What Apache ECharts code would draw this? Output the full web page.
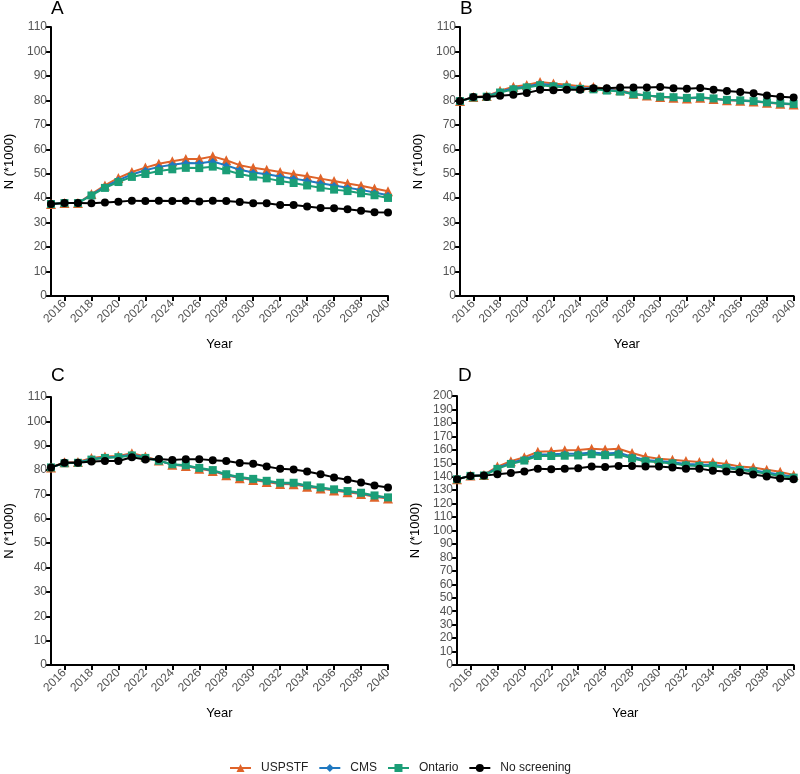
<!DOCTYPE html>
<html>
<head>
<meta charset="utf-8">
<script src="https://cdn.jsdelivr.net/npm/echarts@6/dist/echarts.min.js"></script>
<style>html,body{margin:0;padding:0;background:#fff}#c{width:800px;height:774px}</style>
</head>
<body>
<div id="c"></div>
<script>
const years = ['2015','2016','2017','2018','2019','2020','2021','2022','2023','2024','2025','2026','2027','2028','2029','2030','2031','2032','2033','2034','2035','2036','2037','2038','2039','2040'];
const seriesNames = ['USPSTF','CMS','Ontario','No screening'];
const panelTitles = ['A','B','C','D'];

const A_uspstf  = [37.6,38.0,38.0,41.7,45.2,48.3,50.7,52.5,54.1,55.1,56.0,56.0,57.1,55.5,53.5,52.4,51.6,50.7,49.8,49.0,48.0,47.0,46.0,45.1,44.0,42.8];
const A_cms     = [37.6,38.0,38.0,41.4,44.7,47.4,49.7,51.4,52.8,53.7,54.4,54.3,55.0,53.4,51.6,50.5,49.8,48.9,48.0,47.1,46.1,45.2,44.3,43.4,42.3,41.2];
const A_ontario = [37.6,38.0,38.0,41.1,44.2,46.6,48.7,49.9,51.1,51.8,52.4,52.3,52.9,51.4,49.9,48.8,48.1,47.0,46.2,45.2,44.3,43.5,42.9,42.0,41.2,40.1];
const A_none    = [37.6,38.0,38.0,37.9,38.2,38.5,39.0,38.8,38.9,38.8,38.9,38.6,39.0,38.8,38.4,37.9,37.9,37.2,37.2,36.6,36.0,35.9,35.5,34.9,34.2,34.1];

const B_uspstf  = [79.7,81.4,81.8,83.9,85.6,86.3,87.5,86.9,86.4,85.8,85.5,84.8,84.1,82.7,82.0,81.4,81.1,80.8,81.1,80.6,80.0,79.8,79.5,79.0,78.6,78.3];
const B_cms     = [79.7,81.3,81.6,83.5,85.0,85.7,86.8,86.2,85.7,85.1,84.9,84.3,83.8,82.6,82.0,81.5,81.2,80.9,81.2,80.7,80.1,79.9,79.6,79.1,78.7,78.4];
const B_ontario = [79.7,81.2,81.5,83.2,84.5,85.3,86.2,85.7,85.3,84.7,84.5,84.0,83.6,82.5,82.0,81.5,81.3,81.0,81.3,80.8,80.2,80.0,79.7,79.2,78.8,78.5];
const B_none    = [79.7,81.4,81.4,81.9,82.3,83.0,84.3,84.1,84.3,84.3,85.0,85.0,85.3,85.3,85.3,85.5,85.0,84.7,85.1,84.3,83.8,83.4,82.9,82.0,81.5,81.2];

const C_uspstf  = [81.1,83.2,83.3,85.0,85.6,85.8,86.9,85.6,83.9,82.2,81.7,80.5,79.6,77.9,76.7,75.9,75.1,74.3,74.2,73.2,72.4,71.6,70.9,70.2,69.1,68.3];
const C_cms     = [81.1,82.9,83.1,84.6,85.2,85.5,86.4,85.2,83.8,82.3,81.8,80.7,79.8,78.1,77.0,76.2,75.4,74.6,74.5,73.5,72.7,71.9,71.2,70.5,69.4,68.6];
const C_ontario = [81.1,82.8,83.0,84.3,85.0,85.3,86.0,85.0,83.8,82.4,82.0,80.9,80.0,78.3,77.2,76.4,75.6,74.8,74.8,73.7,72.9,72.1,71.4,70.7,69.6,68.8];
const C_none    = [81.1,83.0,83.0,83.5,83.7,83.7,85.3,84.3,84.6,84.1,84.5,84.5,84.0,83.7,82.9,82.6,81.5,80.5,80.2,79.4,78.3,77.0,76.0,74.9,73.7,72.9];

const D_uspstf  = [138.1,140.8,141.3,147.5,151.5,154.5,158.5,159.0,159.7,159.8,160.8,160.2,160.8,157.6,154.8,153.4,152.6,151.6,150.9,150.8,149.5,147.6,146.8,145.2,143.6,141.2];
const D_cms     = [138.1,140.7,141.1,146.5,150.3,153.0,156.5,156.6,157.0,157.1,158.0,157.3,157.8,154.8,152.5,151.6,150.8,149.4,149.0,148.9,147.4,145.8,144.8,143.2,141.6,139.8];
const D_ontario = [138.1,140.6,140.9,145.8,149.5,152.0,155.4,155.4,155.6,155.8,156.7,156.0,156.5,153.6,151.5,150.7,149.9,148.4,148.0,148.0,146.5,145.0,143.8,142.2,140.5,139.3];
const D_none    = [138.1,140.6,140.8,141.8,142.8,143.8,146.0,145.5,146.0,146.3,147.5,147.3,148.0,148.0,147.5,147.5,146.8,146.0,146.0,144.5,143.8,143.3,141.6,140.1,138.6,138.1];

const panelData = [
  [A_uspstf, A_cms, A_ontario, A_none],
  [B_uspstf, B_cms, B_ontario, B_none],
  [C_uspstf, C_cms, C_ontario, C_none],
  [D_uspstf, D_cms, D_ontario, D_none]
];
const yMax = [110, 110, 110, 200];

const colors = ['#DF6329', '#1F78C0', '#1B9E77', '#000000'];
const symbols = ['triangle', 'diamond', 'rect', 'circle'];
const symSizes = [10, 7, 8, 8];

const FONT = 'Liberation Sans, Arial, Helvetica, sans-serif';

const grids = [
  {left: 51, top: 27, width: 337, height: 269},
  {left: 460, top: 27, width: 334, height: 269},
  {left: 51, top: 397, width: 337, height: 268},
  {left: 457, top: 396, width: 337, height: 269}
];
const titlePos = [
  {left: 51, top: -1},
  {left: 460, top: -1},
  {left: 51, top: 366},
  {left: 458, top: 366}
];

const evenYear = function (i) { return i % 2 === 1; };

const option = {
  animation: false,
  backgroundColor: '#fff',
  title: panelTitles.map((t, i) => ({
    text: t, left: titlePos[i].left, top: titlePos[i].top, padding: 0,
    textStyle: {fontSize: 19, fontWeight: 'normal', color: '#000', fontFamily: FONT}
  })),
  grid: grids,
  legend: {
    data: seriesNames,
    left: 'center',
    top: 762,
    padding: 0,
    itemWidth: 21,
    itemHeight: 10,
    itemGap: 10,
    textStyle: {fontSize: 12, color: '#222', fontFamily: FONT, padding: [0, 0, 0, 5]}
  },
  xAxis: grids.map((g, i) => ({
    type: 'category',
    gridIndex: i,
    data: years,
    boundaryGap: false,
    name: 'Year',
    nameLocation: 'middle',
    nameGap: 42,
    nameTextStyle: {fontSize: 13, color: '#000', fontFamily: FONT},
    axisLine: {lineStyle: {color: '#000', width: 2}},
    axisTick: {interval: evenYear, length: 5, lineStyle: {color: '#000', width: 2}},
    axisLabel: {interval: evenYear, rotate: 45, fontSize: 12, color: '#555', fontFamily: FONT, margin: 6},
    splitLine: {show: false}
  })),
  yAxis: grids.map((g, i) => ({
    type: 'value',
    gridIndex: i,
    min: 0,
    max: yMax[i],
    interval: 10,
    name: 'N (*1000)',
    nameLocation: 'middle',
    nameGap: 35,
    nameTextStyle: {fontSize: 13, color: '#000', fontFamily: FONT},
    axisLine: {show: true, lineStyle: {color: '#000', width: 2}},
    axisTick: {show: true, length: 5, lineStyle: {color: '#000', width: 2}},
    axisLabel: {fontSize: 12, color: '#555', fontFamily: FONT, margin: 4},
    splitLine: {show: false}
  })),
  series: []
};

panelData.forEach((arrs, p) => {
  arrs.forEach((arr, s) => {
    option.series.push({
      name: seriesNames[s],
      type: 'line',
      xAxisIndex: p,
      yAxisIndex: p,
      data: arr,
      symbol: symbols[s],
      symbolSize: symSizes[s],
      showSymbol: true,
      showAllSymbol: true,
      color: colors[s],
      lineStyle: {color: colors[s], width: 2},
      itemStyle: {color: colors[s]},
      z: 2 + s
    });
  });
});

const chart = echarts.init(document.getElementById('c'), null, {renderer: 'canvas'});
chart.setOption(option);
</script>
</body>
</html>
